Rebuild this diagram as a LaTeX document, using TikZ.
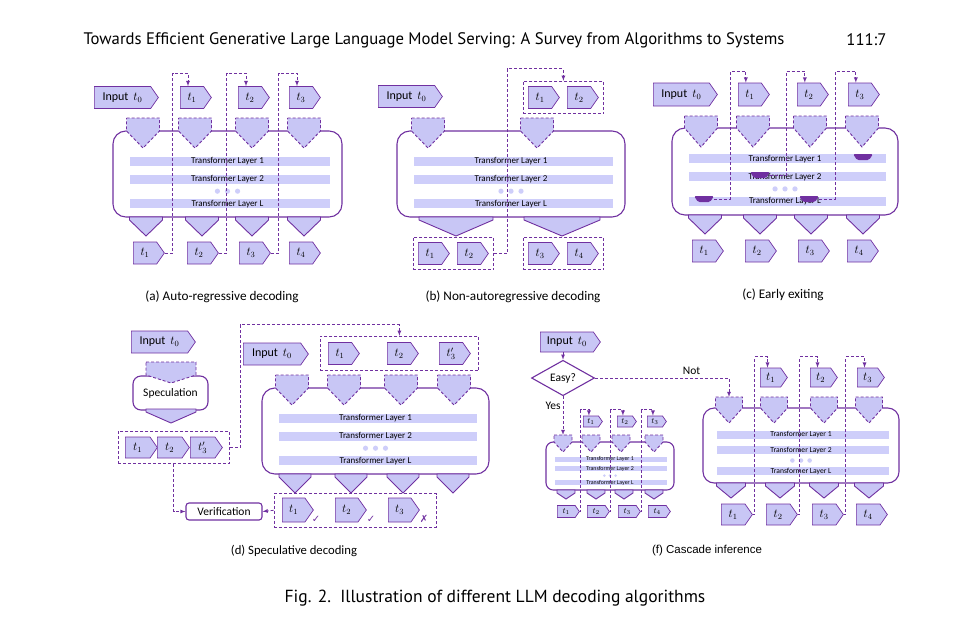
\documentclass[tikz,border=0pt]{standalone}
\usepackage{fontspec}
\setmainfont{Carlito}
\newfontfamily\headfont{PT Sans}
\newfontfamily\symfont{DejaVu Sans}
\newfontfamily\arialfont{Liberation Sans}
\usetikzlibrary{shapes.symbols}
\usetikzlibrary{shapes.geometric}
\usetikzlibrary{fit}
\usetikzlibrary{calc}

\definecolor{purp}{RGB}{112,48,160}
\definecolor{lav}{RGB}{200,198,245}
\definecolor{barc}{RGB}{206,206,250}

\begin{document}
\begin{tikzpicture}[x = 1pt, y = -1pt,
  tok/.style = {shape = signal, signal to = east, signal pointer angle = 110,
    draw = purp, fill = lav, line width = 0.7pt, inner sep = 0pt,
    anchor = west, minimum width = 31pt, minimum height = 22pt,
    font = \fontsize{12}{12}\selectfont},
  inp/.style = {tok, minimum width = 64pt, font = \fontsize{12}{12}\selectfont},
  smalltok/.style = {tok, minimum width = 20pt, minimum height = 11pt,
    font = \fontsize{8}{8}\selectfont},
  grp/.style = {draw = purp, dash pattern = on 3pt off 2pt, line width = 0.8pt,
    inner sep = 5pt},
  dline/.style = {draw = purp, dash pattern = on 3pt off 2pt, line width = 0.8pt},
  topfun/.style = {draw = purp, dash pattern = on 3pt off 2pt, fill = lav,
    line width = 0.9pt},
  botfun/.style = {draw = purp, fill = lav, line width = 0.9pt},
  blk/.style = {draw = purp, fill = white, line width = 1.1pt},
  captxt/.style = {font = \fontsize{13.2}{13.2}\selectfont}]

  \useasboundingbox (0, 0) rectangle (966, 624);

  % page head and caption
  \node[anchor = west, font = \headfont\fontsize{16.7}{16.7}\selectfont] (head)
    at (80, 40) {Towards Efficient Generative Large Language Model Serving: A
    Survey from Algorithms to Systems};
  \node[anchor = east, font = \headfont\fontsize{16.7}{16.7}\selectfont] (page)
    at (890, 40) {111:7};
  \node[font = \headfont\fontsize{17.5}{17.5}\selectfont] (fig) at (495, 598)
    {Fig. 2.\ \ Illustration of different LLM decoding algorithms};

  % transformer blocks
  \foreach \bx/\by/\bw/\bh/\fs in {113/131/229/86/9, 397/131/228/86/9,
      672/128/226/87/9, 262/388/227/86/9, 703/408/196/75/7.6,
      546/442/128/48/5.9}{
    \pgfmathsetmacro{\rc}{0.15*\bh}
    \draw[blk, rounded corners = \rc pt] (\bx, \by) rectangle +(\bw, \bh);
    \foreach \f/\lab in {0.355/Transformer Layer 1, 0.56/Transformer Layer 2,
        0.845/Transformer Layer L}{
      \fill[barc] (\bx + 0.073*\bw, \by + \f*\bh - 0.052*\bh)
        rectangle (\bx + 0.947*\bw, \by + \f*\bh + 0.052*\bh);
      \node[font = \fontsize{\fs}{\fs}\selectfont, inner sep = 0pt]
        at (\bx + 0.5*\bw, \by + \f*\bh) {\lab};
    }
    \foreach \k in {-1, 0, 1}{
      \fill[barc] (\bx + 0.5*\bw + \k*0.044*\bw, \by + 0.70*\bh)
        circle[radius = 0.03*\bh];
    }
  }

  \node[blk, rounded corners = 8pt, minimum width = 75pt, minimum height = 34pt,
    font = \fontsize{11.5}{11.5}\selectfont, text depth = 0pt] (spec)
    at (170.5, 393) {Speculation};
  \node[blk, fill = white, rounded corners = 3pt, minimum width = 76pt,
    minimum height = 17pt, inner sep = 0pt,
    font = \fontsize{11.5}{11.5}\selectfont] (ver) at (224, 511.5)
    {Verification};

  % input funnels, dashed
  \foreach \cx/\ty/\w/\r/\h in {143/118/33/13/30, 195/118/33/13/30,
      252/118/33/13/30, 304/118/33/13/30, 428/118/33/13/30, 537/118/33/13/30,
      701/116/33/12/31, 753/116/33/12/31, 810/116/33/12/31, 862/116/33/12/31,
      292/375/33/13/30, 344/375/33/13/30, 401/375/33/13/30, 454/375/33/13/30,
      171/362/50/13/21, 729/397/27/11/26, 774/397/27/11/26, 824/397/27/11/26,
      869/397/27/11/26, 563/435/18/7/17, 591/435/18/7/17, 621/435/18/7/17,
      654/435/18/7/17}{
    \draw[topfun] (\cx - \w/2, \ty) -- ++(\w, 0) -- ++(0, \r)
      -- (\cx, \ty + \h) -- (\cx - \w/2, \ty + \r) -- cycle;
  }
  \coordinate (sfun) at (563, 435);
  \coordinate (bfun) at (729, 397);

  % output funnels
  \foreach \cx/\by/\w/\h in {146/217/33/19, 202/217/33/19, 252/217/33/19,
      304/217/33/19, 456/217/74/19, 562/217/76/19, 705/215/33/19,
      760/215/33/19, 811/215/33/19, 863/215/33/19, 295/474/32/19,
      351/474/32/19, 403/474/32/19, 453/474/32/19, 171/409/50/14,
      731/483/29/15, 780/483/29/15, 824/483/29/15, 869/483/29/15,
      566/490/18/9, 596/490/18/9, 624/490/18/9, 654/490/18/9}{
    \draw[botfun] (\cx - \w/2, \by) -- ++(\w, 0) -- ++(0, 3)
      -- (\cx, \by + \h) -- (\cx - \w/2, \by + 3) -- cycle;
  }

  % early exits
  \foreach \n/\x/\y in {1/694/196, 2/750/172, 3/799/196, 4/853/154}{
    \coordinate (ex\n) at (\x, \y);
    \fill[purp, rounded corners = 1.5pt] (ex\n) -- ++(20, 0) -- ++(-4, 6)
      -- ++(-12, 0) -- cycle;
  }

  % (a)
  \node[inp] (ain) at (94, 97.5) {Input\hspace{5pt}$t_0$};
  \foreach \i/\x in {1/180, 2/238, 3/289}{
    \node[tok] (at\i) at (\x, 97.5) {$t_\i$};
  }
  \foreach \i/\x in {1/133, 2/187, 3/239, 4/289}{
    \node[tok] (ab\i) at (\x, 253) {$t_\i$};
  }
  \foreach \i in {1, 2, 3}{
    \draw[dline, -latex] (ab\i.east) -- ++(8, 0) |- ($(at\i.north) + (-4, -13)$)
      -- ($(at\i.north) + (-4, 0)$);
  }
  \node[captxt] (capa) at (222, 297) {(a) Auto-regressive decoding};

  % (b)
  \node[inp] (bin) at (378, 96.5) {Input\hspace{5pt}$t_0$};
  \node[tok] (bt1) at (528, 97.5) {$t_1$};
  \node[tok] (bt2) at (567, 97.5) {$t_2$};
  \node[grp, fit = (bt1) (bt2)] (btg) {};
  \node[tok] (bb1) at (418, 253.5) {$t_1$};
  \node[tok] (bb2) at (457, 253.5) {$t_2$};
  \node[tok] (bb3) at (528, 253.5) {$t_3$};
  \node[tok] (bb4) at (567, 253.5) {$t_4$};
  \node[grp, fit = (bb1) (bb2)] (bbg1) {};
  \node[grp, fit = (bb3) (bb4)] (bbg2) {};
  \draw[dline, -latex] (bbg1.east) -- ++(13, 0) |- ($(btg.north) + (0, -12)$)
    -- (btg.north);
  \node[captxt] (capb) at (513, 297) {(b) Non-autoregressive decoding};

  % (c)
  \node[inp, minimum height = 23pt] (cin) at (653, 94.5) {Input\hspace{5pt}$t_0$};
  \foreach \i/\x in {1/738, 2/797, 3/848}{
    \node[tok, minimum height = 23pt] (ct\i) at (\x, 94.5) {$t_\i$};
  }
  \foreach \i/\x in {1/692, 2/745, 3/798, 4/847}{
    \node[tok] (cb\i) at (\x, 251) {$t_\i$};
  }
  \foreach \i in {1, 2, 3}{
    \draw[dline, -latex] ($(ex\i) + (20, 3)$) -- ++(16, 0)
      |- ($(ct\i.north) + (-4, -11)$) -- ($(ct\i.north) + (-4, 0)$);
  }
  \node[captxt] (capc) at (783, 295) {(c) Early exiting};

  % (d)
  \node[inp] (din1) at (131, 342) {Input\hspace{5pt}$t_0$};
  \node[tok, minimum height = 21pt, minimum width = 32pt] (dt1) at (125, 447.5)
    {$t_1$};
  \node[tok, minimum height = 21pt, minimum width = 32pt] (dt2) at (157, 447.5)
    {$t_2$};
  \node[tok, minimum height = 21pt, minimum width = 32pt] (dt3) at (190, 447.5)
    {$t_3'$};
  \node[grp, inner xsep = 7pt, fit = (dt1) (dt3)] (dtg) {};
  \node[inp, minimum width = 65pt] (din2) at (243, 354) {Input\hspace{5pt}$t_0$};
  \node[tok] (tt1) at (328, 353.5) {$t_1$};
  \node[tok] (tt2) at (387, 353.5) {$t_2$};
  \node[tok] (tt3) at (439, 353.5) {$t_3'$};
  \node[grp, inner xsep = 8pt, inner ysep = 6pt, fit = (tt1) (tt3)] (ttg) {};
  \node[tok, minimum height = 24pt] (vt1) at (282, 510) {$t_1$};
  \node[tok, minimum height = 24pt] (vt2) at (335, 510) {$t_2$};
  \node[tok, minimum height = 24pt] (vt3) at (388, 510) {$t_3$};
  \foreach \i/\x/\s in {1/316/✓, 2/371/✓, 3/424/✗}{
    \node[text = purp, inner sep = 0pt, font = \symfont\fontsize{10}{10}\selectfont]
      (ck\i) at (\x, 519) {\s};
  }
  \node[grp, inner xsep = 8pt, inner ysep = 4pt, fit = (vt1) (vt3) (ck3)] (vtg) {};
  \draw[dline, -latex] (dtg.east) -- ++(10, 0) |- ($(ttg.north) + (0, -11)$)
    -- (ttg.north);
  \draw[dline, -latex] (dtg.south) |- (ver.west);
  \draw[dline, -latex] (vtg.west) -- (ver.east);
  \node[captxt, font = \fontsize{12.7}{12.7}\selectfont] (capd) at (294, 551)
    {(d) Speculative decoding};

  % (f)
  \node[inp, minimum width = 60pt, minimum height = 20pt] (fin) at (540, 342)
    {Input\hspace{5pt}$t_0$};
  \node[shape = diamond, draw = purp, fill = white, line width = 1.1pt,
    minimum width = 63pt, minimum height = 29pt, inner sep = 0pt,
    font = \fontsize{11.5}{11.5}\selectfont] (easy) at (563, 378) {Easy?};
  \draw[dline, -latex] (easy.north |- fin.south) -- (easy.north);
  \draw[dline, -latex] (easy.south) -- (sfun)
    node[pos = 0.25, left, inner sep = 2pt, font = \fontsize{11.5}{11.5}\selectfont]
    {Yes};
  \draw[dline, -latex] (easy.east) -| (bfun)
    node[pos = 0.36, above, inner sep = 3pt, font = \fontsize{11.5}{11.5}\selectfont]
    {Not};
  \foreach \i/\x in {1/583, 2/617, 3/647}{
    \node[smalltok, minimum width = 19pt] (st\i) at (\x, 421.5) {$t_\i$};
  }
  \foreach \i/\x in {1/557, 2/587, 3/618, 4/648}{
    \node[smalltok, minimum width = 22pt, minimum height = 12pt] (sb\i)
      at (\x, 511.5) {$t_\i$};
  }
  \foreach \i in {1, 2, 3}{
    \draw[dline, -latex] (sb\i.east) -- ++(1, 0) |- ($(st\i.north) + (-2, -6)$)
      -- ($(st\i.north) + (-2, 0)$);
  }
  \foreach \i/\x in {1/760, 2/810, 3/857}{
    \node[tok, minimum width = 27pt, minimum height = 19pt] (ft\i)
      at (\x, 377.5) {$t_\i$};
  }
  \foreach \i/\x in {1/721, 2/766, 3/812, 4/856}{
    \node[tok, minimum height = 21pt] (fb\i) at (\x, 514.5) {$t_\i$};
  }
  \foreach \i in {1, 2, 3}{
    \draw[dline, -latex] (fb\i.east) -- ++(2, 0) |- ($(ft\i.north) + (-3, -11)$)
      -- ($(ft\i.north) + (-3, 0)$);
  }
  \node[font = \arialfont\fontsize{11.5}{11.5}\selectfont] (capf) at (707, 551)
    {(f) Cascade inference};
\end{tikzpicture}
\end{document}
